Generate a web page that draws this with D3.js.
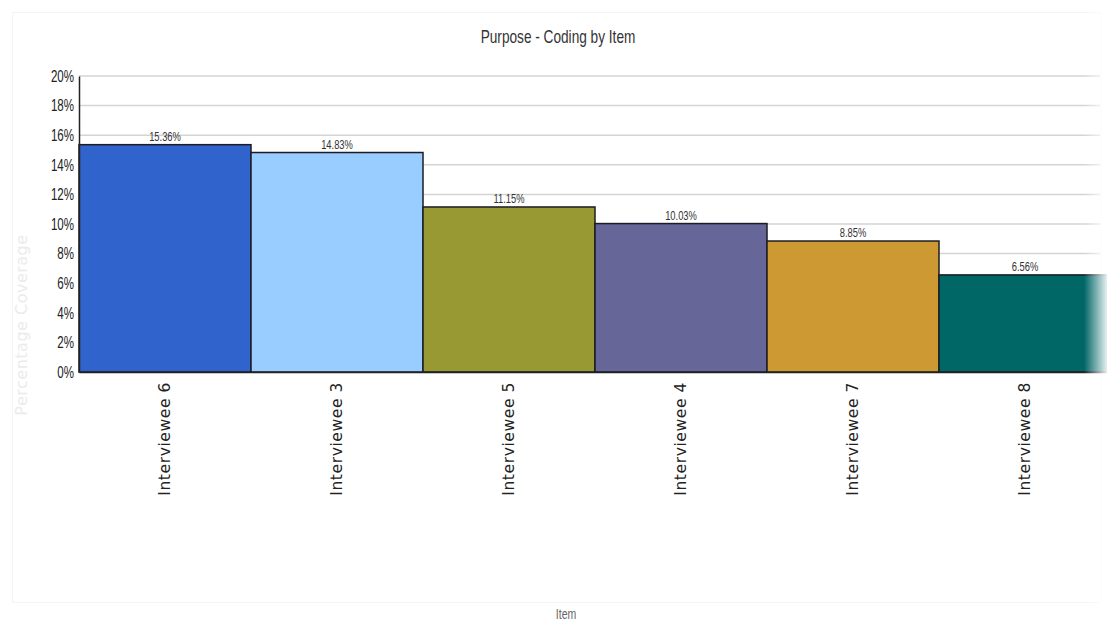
<!DOCTYPE html>
<html>
<head>
<meta charset="utf-8">
<script src="https://cdn.jsdelivr.net/npm/d3@7"></script>
<style>
  html, body { margin: 0; padding: 0; background: #fff; }
  svg { display: block; }
</style>
</head>
<body>
<svg id="chart" width="1107" height="625"></svg>
<script>
// Coverage of the "Purpose" node, per interviewee
const categories = ["Interviewee 6", "Interviewee 3", "Interviewee 5", "Interviewee 4", "Interviewee 7", "Interviewee 8"];
const coverage = [15.36, 14.83, 11.15, 10.03, 8.85, 6.56];
const barColors = ["#3063cc", "#99ccff", "#999933", "#666699", "#cc9933", "#006666"];
const yTicks = [0, 2, 4, 6, 8, 10, 12, 14, 16, 18, 20];

const W = 1107, H = 625;
const margin = { left: 79, right: -4, top: 76, bottom: 253 };
const sansFont = "'Liberation Sans', Arial, sans-serif";
const wideFont = "'DejaVu Sans', Verdana, sans-serif";
const svg = d3.select("#chart");

// condensed look: squeeze text horizontally around its anchor point
function squeeze(sel, sx, px, py) {
  sel.attr("transform", `translate(${px},${py}) scale(${sx},1)`).attr("x", 0).attr("y", 0);
}

const x = d3.scaleBand().domain(categories).range([margin.left, W - margin.right]).padding(0);
const y = d3.scaleLinear().domain([0, 20]).range([H - margin.bottom, margin.top]);

// faint outer frame
svg.append("rect").attr("x", 12.5).attr("y", 12.5).attr("width", 1088).attr("height", 590)
  .attr("fill", "none").attr("stroke", "#f4f4f4").attr("stroke-width", 1);

// gridlines
svg.append("g").selectAll("line").data(yTicks.filter(d => d > 0)).join("line")
  .attr("x1", margin.left).attr("x2", 1100)
  .attr("y1", d => y(d)).attr("y2", d => y(d))
  .attr("stroke", "#d4d4d4").attr("stroke-width", 1.5);

// bars
const data = categories.map((c, i) => ({ c, v: coverage[i], col: barColors[i] }));
svg.append("g").selectAll("rect").data(data).join("rect")
  .attr("x", d => x(d.c)).attr("y", d => y(d.v))
  .attr("width", x.bandwidth()).attr("height", d => y(0) - y(d.v))
  .attr("fill", d => d.col).attr("stroke", "#1c1c24").attr("stroke-width", 1.5);

// value labels
svg.append("g").selectAll("text").data(data).join("text")
  .attr("text-anchor", "middle").attr("font-family", sansFont)
  .attr("font-size", 12).attr("fill", "#333")
  .attr("transform", d => `translate(${x(d.c) + x.bandwidth() / 2},${y(d.v) - 4}) scale(0.78,1)`)
  .text(d => d.v.toFixed(2) + "%");

// y axis
const yAxis = svg.append("g").attr("transform", `translate(${margin.left},0)`)
  .call(d3.axisLeft(y).tickValues(yTicks).tickSize(0).tickPadding(5).tickFormat(d => d + "%"));
yAxis.select(".domain").attr("stroke", "#222").attr("stroke-width", 1.5);
yAxis.selectAll(".tick text")
  .attr("font-family", sansFont).attr("font-size", 16.5).attr("fill", "#222")
  .attr("transform", "translate(-5,0) scale(0.7,1)").attr("x", 0);

// x axis
const xAxis = svg.append("g").attr("transform", `translate(0,${y(0)})`)
  .call(d3.axisBottom(x).tickSize(0).tickPadding(0));
xAxis.select(".domain").attr("stroke", "#222").attr("stroke-width", 1.5);
xAxis.selectAll(".tick text")
  .attr("transform", "rotate(-90)")
  .attr("text-anchor", "end")
  .attr("dx", "-10").attr("dy", "0.35em").attr("y", 0)
  .attr("font-family", wideFont).attr("letter-spacing", "0.6")
  .attr("font-size", 15.5).attr("fill", "#222");

// titles
svg.append("text").attr("text-anchor", "middle").attr("font-family", sansFont)
  .attr("font-size", 17.5).attr("fill", "#333")
  .call(squeeze, 0.78, 558, 43)
  .text("Purpose - Coding by Item");
svg.append("text").attr("text-anchor", "middle").attr("font-family", sansFont)
  .attr("font-size", 14).attr("fill", "#666")
  .call(squeeze, 0.75, 566, 619)
  .text("Item");
svg.append("text")
  .attr("transform", "translate(27,325) rotate(-90)")
  .attr("text-anchor", "middle").attr("font-family", wideFont)
  .attr("font-size", 16).attr("letter-spacing", "0.5").attr("fill", "#ebebeb")
  .text("Percentage Coverage");

// soft fade at the right edge
const defs = svg.append("defs");
const grad = defs.append("linearGradient").attr("id", "fade").attr("x1", "0").attr("x2", "1");
grad.append("stop").attr("offset", "0").attr("stop-color", "#fff").attr("stop-opacity", 0);
grad.append("stop").attr("offset", "1").attr("stop-color", "#fff").attr("stop-opacity", 0.9);
svg.append("rect").attr("x", 1084).attr("y", 0).attr("width", 23).attr("height", H).attr("fill", "url(#fade)");
</script>
</body>
</html>
